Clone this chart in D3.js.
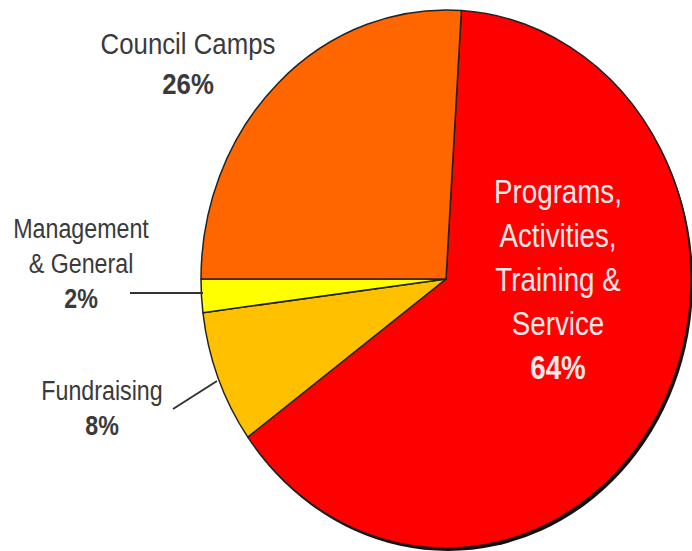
<!DOCTYPE html>
<html><head><meta charset="utf-8">
<script src="https://cdn.jsdelivr.net/npm/d3@7"></script>
<style>html,body{margin:0;padding:0;background:#fff;}</style>
</head><body>
<svg id="c" width="692" height="551"></svg>
<script>
const categories = ["Programs, Activities, Training & Service", "Fundraising", "Management & General", "Council Camps"];
const values = [64, 8, 2, 26];
const colors = ["#FF0000", "#FFC000", "#FFFF00", "#FF6600"];

const svg = d3.select("#c");
const cx = 446, cy = 279, rx = 245, ry = 269;
const startDeg = 3.6;
const pie = d3.pie().sort(null).value(d => d)
  .startAngle(startDeg * Math.PI / 180)
  .endAngle((startDeg + 360) * Math.PI / 180);
const arc = d3.arc().innerRadius(0).outerRadius(rx);
const arcs = pie(values);

// shadow
svg.append("ellipse").attr("cx", cx + 2).attr("cy", cy + 3).attr("rx", rx).attr("ry", ry)
  .attr("fill", "#111");

const g = svg.append("g").attr("transform", `translate(${cx},${cy}) scale(1,${ry / rx})`);
g.selectAll("path").data(arcs).join("path")
  .attr("d", arc)
  .attr("fill", (d, i) => colors[i])
  .attr("stroke", "#222")
  .attr("stroke-width", 1.5)
  .attr("vector-effect", "non-scaling-stroke")
  .attr("stroke-linejoin", "round");

const font = "'Liberation Sans',Arial,sans-serif";
function label(lines, x, y0, dy, size, fill, sx) {
  const t = svg.append("text").attr("text-anchor", "middle")
    .attr("transform", `translate(${x},0) scale(${sx},1)`)
    .attr("font-family", font).attr("font-size", size).attr("fill", fill);
  lines.forEach((s, i) => {
    t.append("tspan").attr("x", 0).attr("y", y0 + i * dy).text(s)
      .attr("font-weight", i === lines.length - 1 ? "bold" : "normal");
  });
}
label(["Council Camps", values[3] + "%"], 188, 54, 40, 30, "#3a3a3a", 0.86);
label(["Management", "& General", values[2] + "%"], 81, 238, 35, 28, "#3a3a3a", 0.83);
label(["Fundraising", values[1] + "%"], 102, 400, 35, 28, "#3a3a3a", 0.83);
label(["Programs,", "Activities,", "Training &", "Service", values[0] + "%"], 558, 203, 44, 33, "#FFE8E8", 0.84);

// leader lines
svg.append("line").attr("x1", 130).attr("y1", 293).attr("x2", 203).attr("y2", 293)
  .attr("stroke", "#333").attr("stroke-width", 2);
svg.append("line").attr("x1", 173).attr("y1", 409).attr("x2", 217).attr("y2", 381)
  .attr("stroke", "#333").attr("stroke-width", 2);
</script>
</body></html>
